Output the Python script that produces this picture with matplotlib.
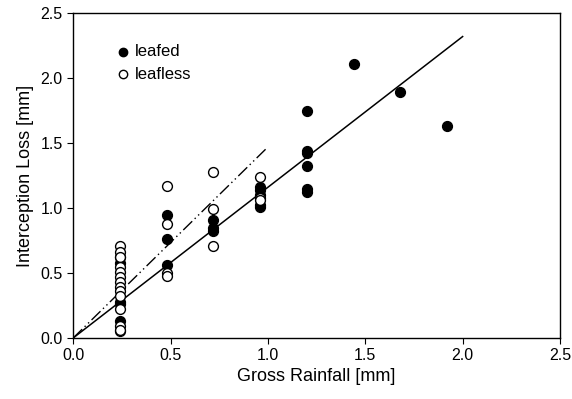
import matplotlib
matplotlib.use("Agg")
import matplotlib.pyplot as plt

plt.rcParams['font.family'] = ['Liberation Sans', 'DejaVu Sans']

# leafed (filled)
leafed_x = [0.24, 0.24, 0.24, 0.24, 0.24,
            0.48, 0.48, 0.48,
            0.72, 0.72, 0.72,
            0.96, 0.96, 0.96, 0.96, 0.96,
            1.20, 1.20, 1.20, 1.20, 1.20, 1.20,
            1.44, 1.68, 1.92]
leafed_y = [0.62, 0.58, 0.28, 0.26, 0.13,
            0.95, 0.76, 0.56,
            0.91, 0.85, 0.82,
            1.16, 1.14, 1.10, 1.02, 1.01,
            1.75, 1.44, 1.42, 1.32, 1.15, 1.12,
            2.11, 1.89, 1.63]

# leafless (open)
leafless_x = [0.24] * 14 + [0.48] * 4 + [0.72] * 3 + [0.96] * 3
leafless_y = [0.71, 0.66, 0.62, 0.55, 0.51, 0.47, 0.43, 0.39, 0.36, 0.32,
              0.22, 0.09, 0.05, 0.06,
              1.17, 0.88, 0.50, 0.48,
              1.28, 0.99, 0.71,
              1.24, 1.08, 1.06]

# regression lines
fit_leafed_x = [0.0, 2.0]
fit_leafed_y = [0.0, 2.32]
fit_leafless_x = [0.0, 1.0]
fit_leafless_y = [0.0, 1.47]

fig = plt.figure(figsize=(5.72, 3.99), dpi=100)
ax = fig.add_axes([0.128, 0.153, 0.851, 0.814])

ax.plot(fit_leafed_x, fit_leafed_y, color='black', lw=1.1, zorder=2)
ax.plot(fit_leafless_x, fit_leafless_y, color='black', lw=1.0,
        dashes=(9, 2.5, 1, 2.5, 1, 2.5), zorder=2)

ax.scatter(leafed_x, leafed_y, s=50, color='black', zorder=3, label='leafed')
ax.scatter(leafless_x, leafless_y, s=50, facecolor='white', edgecolor='black',
           linewidth=1.0, zorder=3, label='leafless')

ax.set_xlim(0, 2.5)
ax.set_ylim(0, 2.5)
ax.set_xticks([0.0, 0.5, 1.0, 1.5, 2.0, 2.5])
ax.set_yticks([0.0, 0.5, 1.0, 1.5, 2.0, 2.5])
ax.xaxis.set_major_formatter(matplotlib.ticker.FormatStrFormatter('%.1f'))
ax.yaxis.set_major_formatter(matplotlib.ticker.FormatStrFormatter('%.1f'))
ax.tick_params(direction='out', length=4, labelsize=11.5)
for sp in ax.spines.values():
    sp.set_linewidth(1.0)

ax.set_xlabel('Gross Rainfall [mm]', fontsize=13, labelpad=3)
ax.set_ylabel('Interception Loss [mm]', fontsize=13, labelpad=5)

ax.legend(loc='upper left', bbox_to_anchor=(0.068, 0.925), frameon=False,
          fontsize=12, handletextpad=0.1, labelspacing=0.45, borderaxespad=0,
          handlelength=1.2, markerscale=0.85)

plt.savefig("out.png", dpi=100)
